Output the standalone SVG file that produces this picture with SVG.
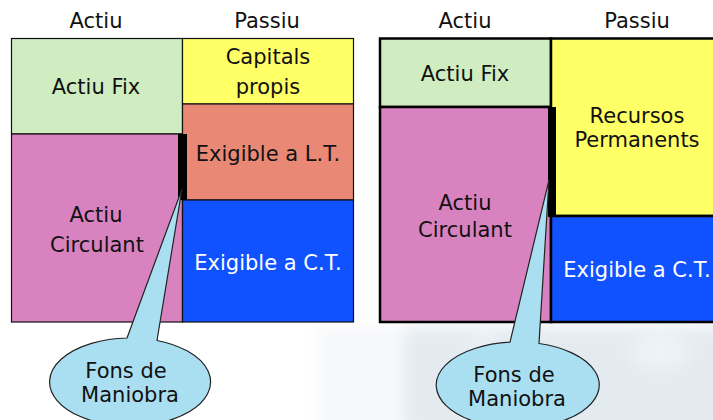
<svg xmlns="http://www.w3.org/2000/svg" width="713" height="420" viewBox="0 0 713 420">
  <style>
    text { font-family: "DejaVu Sans", Verdana, sans-serif; font-size: 21px; fill: #111; text-anchor: middle; }
    .light { fill: #ffffff; }
    .thin { stroke: #111; stroke-width: 1.2; }
    .thick { stroke: #000; stroke-width: 2.5; }
    .fix { fill: #cfedc0; }
    .circ { fill: #d883c0; }
    .cap { fill: #ffff66; }
    .lt { fill: #e88875; }
    .ct { fill: #1052ff; }
    .bar { fill: #000; }
    .bubble { fill: #aadff2; stroke: #222; stroke-width: 1.2; stroke-linejoin: round; }
  </style>
  <defs>
    <filter id="soft" x="-20%" y="-20%" width="140%" height="140%">
      <feGaussianBlur stdDeviation="8"/>
    </filter>
  </defs>

  <rect width="713" height="420" fill="#ffffff"/>

  <!-- faded backdrop under the right balance -->
  <g id="backdrop" filter="url(#soft)">
    <rect x="318" y="326" width="420" height="110" fill="#f7f8fa"/>
    <rect x="405" y="326" width="335" height="110" fill="#e3ebf1"/>
    <ellipse cx="660" cy="352" rx="30" ry="18" fill="#edf3f8"/>
    <rect x="470" y="330" width="28" height="100" fill="#eaf0f5"/>
  </g>

  <!-- column headings -->
  <g id="headings">
    <text x="96" y="28">Actiu</text>
    <text x="267" y="28">Passiu</text>
    <text x="465" y="28">Actiu</text>
    <text x="637" y="28">Passiu</text>
  </g>

  <!-- left balance: equity and long/short-term liabilities -->
  <g id="left-actiu-fix">
    <rect class="fix thin" x="11.5" y="38.5" width="171" height="95.5"/>
    <text x="96" y="94">Actiu Fix</text>
  </g>
  <g id="left-actiu-circulant">
    <rect class="circ thin" x="11.5" y="134" width="171" height="188"/>
    <text x="96" y="222">Actiu</text>
    <text x="97" y="252">Circulant</text>
  </g>
  <g id="left-capitals-propis">
    <rect class="cap thin" x="182.5" y="38.5" width="171" height="65.5"/>
    <text x="268" y="64">Capitals</text>
    <text x="268" y="94">propis</text>
  </g>
  <g id="left-exigible-lt">
    <rect class="lt thin" x="182.5" y="104" width="171" height="96"/>
    <text x="268" y="161">Exigible a L.T.</text>
  </g>
  <g id="left-exigible-ct">
    <rect class="ct thin" x="182.5" y="200" width="171" height="122"/>
    <text class="light" x="268" y="270">Exigible a C.T.</text>
  </g>
  <rect id="left-bar" class="bar" x="178" y="134" width="9" height="66"/>

  <!-- right balance: permanent resources -->
  <g id="right-actiu-fix">
    <rect class="fix thick" x="380" y="38.5" width="171" height="68.5"/>
    <text x="465" y="81">Actiu Fix</text>
  </g>
  <g id="right-actiu-circulant">
    <rect class="circ thick" x="380" y="107" width="171" height="215"/>
    <text x="465" y="210">Actiu</text>
    <text x="465" y="237">Circulant</text>
  </g>
  <g id="right-recursos-permanents">
    <rect class="cap thick" x="551" y="38.5" width="175" height="177.5"/>
    <text x="637" y="123">Recursos</text>
    <text x="637" y="147">Permanents</text>
  </g>
  <g id="right-exigible-ct">
    <rect class="ct thick" x="551" y="216" width="175" height="106"/>
    <text class="light" x="637" y="277">Exigible a C.T.</text>
  </g>
  <rect id="right-bar" class="bar" x="548" y="107" width="8" height="110"/>

  <!-- callouts pointing at the working-capital bars -->
  <g id="connectors">
    <g id="left-fons-de-maniobra">
      <path class="bubble" d="M182,189 L157,340.5 A80.5,44 0 1 1 127,338 Z"/>
      <text x="126" y="378">Fons de</text>
      <text x="130" y="402">Maniobra</text>
    </g>
    <g id="right-fons-de-maniobra">
      <path class="bubble" d="M549,180 L539,343.5 A81.5,43 0 1 1 510,342.2 Z"/>
      <text x="514" y="382">Fons de</text>
      <text x="517" y="406">Maniobra</text>
    </g>
  </g>
</svg>
